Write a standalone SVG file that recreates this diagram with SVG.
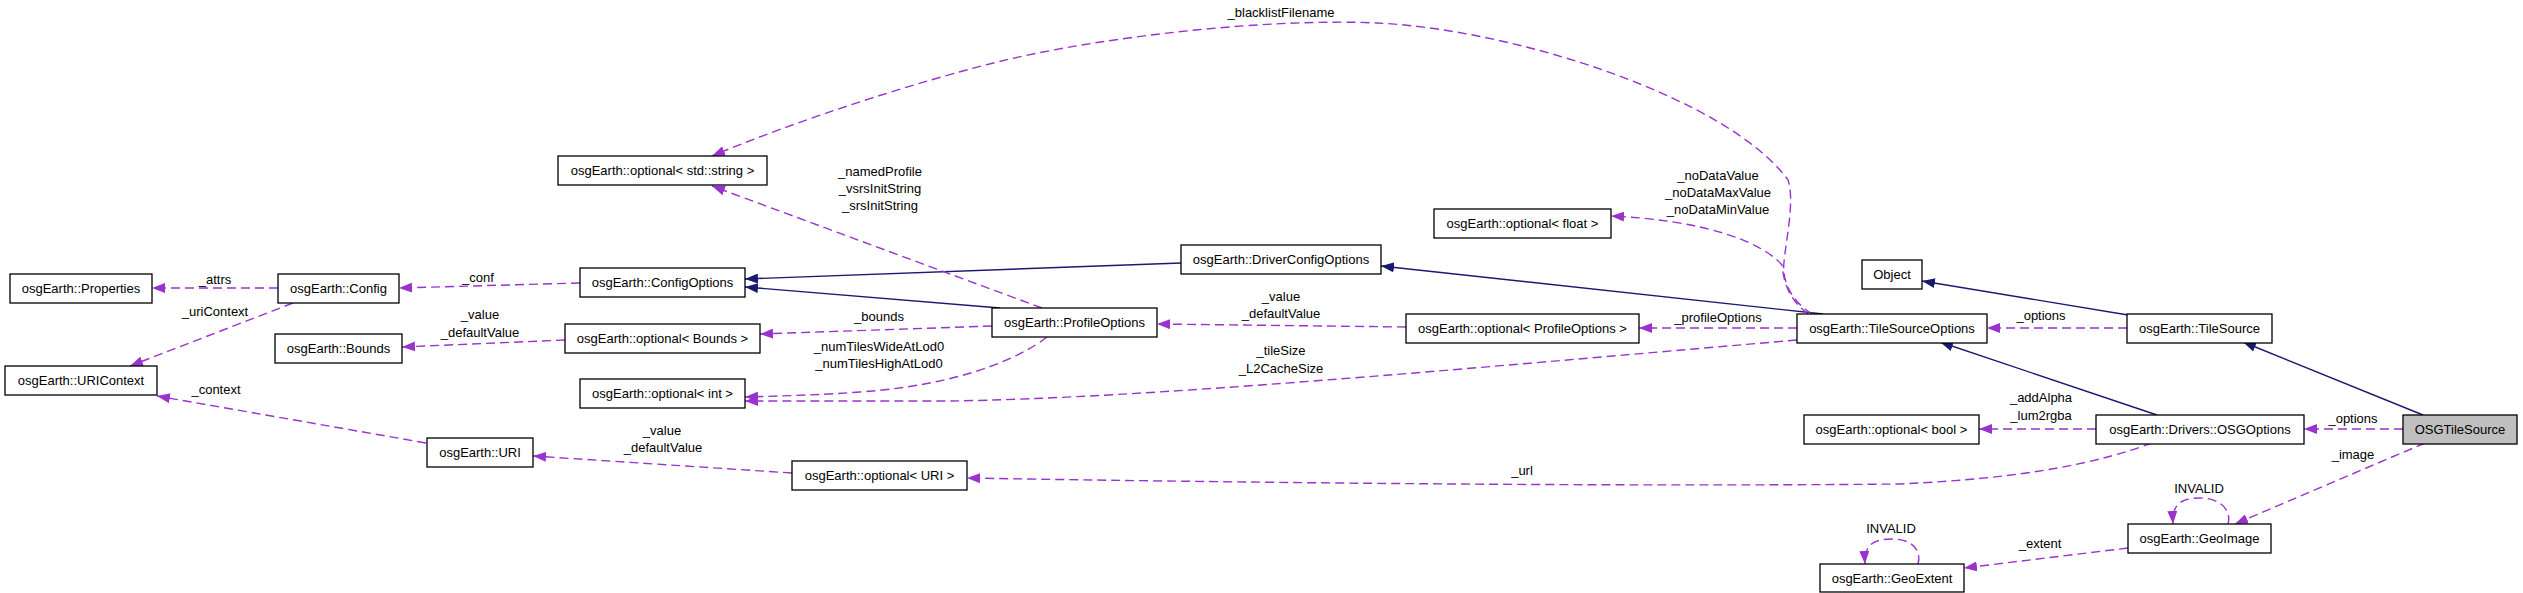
<svg xmlns="http://www.w3.org/2000/svg" width="2523" height="593" viewBox="0 0 2523 593">
<style>
.node rect{fill:#ffffff;stroke:#000000;stroke-width:1.3}
#OSGTileSource rect{fill:#bfbfbf}
text{font-family:"Liberation Sans",Arial,sans-serif;font-size:13px;fill:#000000;text-anchor:middle}
.use{fill:none;stroke:#9a32cd;stroke-width:1.4;stroke-dasharray:9,5;marker-end:url(#ap)}
.inh{fill:none;stroke:#191970;stroke-width:1.4;marker-end:url(#ab)}
</style>
<defs>
<marker id="ap" viewBox="0 0 13 10" refX="13" refY="5" markerWidth="13" markerHeight="10" markerUnits="userSpaceOnUse" orient="auto"><path d="M0,0 L13,5 L0,10 z" fill="#9a32cd" stroke="none"/></marker>
<marker id="ab" viewBox="0 0 13 10" refX="13" refY="5" markerWidth="13" markerHeight="10" markerUnits="userSpaceOnUse" orient="auto"><path d="M0,0 L13,5 L0,10 z" fill="#191970" stroke="none"/></marker>
</defs>
<rect width="2523" height="593" fill="#ffffff"/>
<g id="connectors">
<path class="use" d="M278,288 L152,288"/>
<text x="215" y="284">_attrs</text>
<path class="use" d="M293,303 L130,366"/>
<text x="215" y="316">_uriContext</text>
<path class="use" d="M580,283 L399,288"/>
<text x="478" y="282">_conf</text>
<path class="use" d="M565,340 L402,347"/>
<text x="480" y="319">_value</text>
<text x="480" y="337">_defaultValue</text>
<path class="use" d="M426,443 L157,396"/>
<text x="216" y="394">_context</text>
<path class="use" d="M792,473 L533,456"/>
<text x="662" y="435">_value</text>
<text x="663" y="452">_defaultValue</text>
<path class="inh" d="M1000,308 L745,287"/>
<path class="inh" d="M1181,263 L745,279"/>
<path class="use" d="M1042,308 L712,186"/>
<text x="880" y="176">_namedProfile</text>
<text x="880" y="193">_vsrsInitString</text>
<text x="880" y="210">_srsInitString</text>
<path class="use" d="M992,326 L760,334"/>
<text x="879" y="321">_bounds</text>
<path class="use" d="M1047,337 C1020,358 960,385 860,392 C820,395 780,396 745,397"/>
<text x="879" y="351">_numTilesWideAtLod0</text>
<text x="879" y="368">_numTilesHighAtLod0</text>
<path class="use" d="M1797,340 C1450,370 1150,398 950,401 L745,401"/>
<text x="1281" y="355">_tileSize</text>
<text x="1281" y="373">_L2CacheSize</text>
<path class="use" d="M1406,327 L1157,324"/>
<text x="1281" y="301">_value</text>
<text x="1281" y="318">_defaultValue</text>
<path class="inh" d="M1823,314 L1381,266"/>
<path class="use" d="M1797,328 L1639,328"/>
<text x="1718" y="322">_profileOptions</text>
<path class="use" d="M1808,314 C1790,300 1784,285 1782,265 C1760,240 1700,220 1611,216"/>
<text x="1718" y="180">_noDataValue</text>
<text x="1718" y="197">_noDataMaxValue</text>
<text x="1718" y="214">_noDataMinValue</text>
<path class="use" d="M1812,314 C1790,300 1782,280 1784,262 C1786,240 1795,200 1788,180 C1730,100 1520,30 1377,23 C1270,18 1110,36 1010,59 C920,80 790,123 712,156"/>
<text x="1281" y="17">_blacklistFilename</text>
<path class="inh" d="M2128,315 L1922,281"/>
<path class="use" d="M2127,328 L1987,328"/>
<text x="2041" y="320">_options</text>
<path class="inh" d="M2157,415 L1940,342"/>
<path class="inh" d="M2423,415 L2243,342"/>
<path class="use" d="M2096,429 L1979,429"/>
<text x="2041" y="402">_addAlpha</text>
<text x="2041" y="420">_lum2rgba</text>
<path class="use" d="M2152,443 C2100,462 2030,478 1900,484 C1600,487 1200,482 967,478"/>
<text x="1522" y="475">_url</text>
<path class="use" d="M2403,429 L2304,429"/>
<text x="2353" y="423">_options</text>
<path class="use" d="M2425,443 L2235,524"/>
<text x="2353" y="459">_image</text>
<path class="use" d="M2228,524 C2232,510 2220,498 2200,498 C2180,498 2172,505 2173,524"/>
<text x="2199" y="493">INVALID</text>
<path class="use" d="M2128,548 L1964,568"/>
<text x="2040" y="548">_extent</text>
<path class="use" d="M1918,564 C1922,550 1912,539 1892,539 C1872,539 1864,546 1865,564"/>
<text x="1891" y="533">INVALID</text>
</g>
<g id="Properties" class="node"><rect x="10" y="274" width="142" height="29"/><text x="81" y="293">osgEarth::Properties</text></g>
<g id="Config" class="node"><rect x="278" y="274" width="121" height="29"/><text x="338.5" y="293">osgEarth::Config</text></g>
<g id="Bounds" class="node"><rect x="275" y="334" width="127" height="29"/><text x="338.5" y="353">osgEarth::Bounds</text></g>
<g id="URIContext" class="node"><rect x="5" y="366" width="152" height="29"/><text x="81" y="385">osgEarth::URIContext</text></g>
<g id="URI" class="node"><rect x="427" y="438" width="106" height="29"/><text x="480" y="457">osgEarth::URI</text></g>
<g id="optString" class="node"><rect x="558" y="156" width="209" height="29"/><text x="662.5" y="175">osgEarth::optional&lt; std::string &gt;</text></g>
<g id="ConfigOptions" class="node"><rect x="580" y="268" width="165" height="29"/><text x="662.5" y="287">osgEarth::ConfigOptions</text></g>
<g id="optBounds" class="node"><rect x="565" y="324" width="195" height="29"/><text x="662.5" y="343">osgEarth::optional&lt; Bounds &gt;</text></g>
<g id="optInt" class="node"><rect x="580" y="379" width="165" height="29"/><text x="662.5" y="398">osgEarth::optional&lt; int &gt;</text></g>
<g id="optURI" class="node"><rect x="792" y="461" width="175" height="29"/><text x="879.5" y="480">osgEarth::optional&lt; URI &gt;</text></g>
<g id="ProfileOptions" class="node"><rect x="992" y="308" width="165" height="29"/><text x="1074.5" y="327">osgEarth::ProfileOptions</text></g>
<g id="DriverConfigOptions" class="node"><rect x="1181" y="245" width="200" height="29"/><text x="1281" y="264">osgEarth::DriverConfigOptions</text></g>
<g id="optProfileOptions" class="node"><rect x="1406" y="314" width="233" height="29"/><text x="1522.5" y="333">osgEarth::optional&lt; ProfileOptions &gt;</text></g>
<g id="optFloat" class="node"><rect x="1434" y="209" width="177" height="29"/><text x="1522.5" y="228">osgEarth::optional&lt; float &gt;</text></g>
<g id="Object" class="node"><rect x="1862" y="260" width="60" height="29"/><text x="1892" y="279">Object</text></g>
<g id="TileSourceOptions" class="node"><rect x="1797" y="314" width="190" height="29"/><text x="1892" y="333">osgEarth::TileSourceOptions</text></g>
<g id="optBool" class="node"><rect x="1804" y="415" width="175" height="29"/><text x="1891.5" y="434">osgEarth::optional&lt; bool &gt;</text></g>
<g id="GeoExtent" class="node"><rect x="1820" y="564" width="144" height="28"/><text x="1892" y="582.5">osgEarth::GeoExtent</text></g>
<g id="TileSource" class="node"><rect x="2127" y="314" width="145" height="29"/><text x="2199.5" y="333">osgEarth::TileSource</text></g>
<g id="OSGOptions" class="node"><rect x="2096" y="415" width="208" height="29"/><text x="2200" y="434">osgEarth::Drivers::OSGOptions</text></g>
<g id="OSGTileSource" class="node"><rect x="2403" y="415" width="114" height="29"/><text x="2460" y="434">OSGTileSource</text></g>
<g id="GeoImage" class="node"><rect x="2128" y="524" width="143" height="29"/><text x="2199.5" y="543">osgEarth::GeoImage</text></g>
</svg>
